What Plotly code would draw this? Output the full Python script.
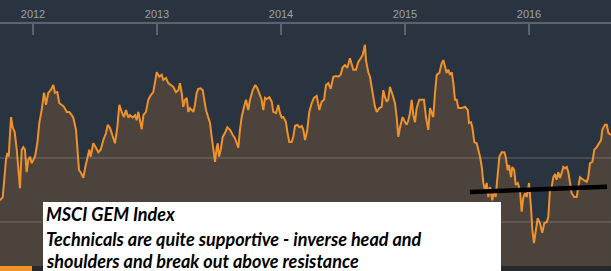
import plotly.graph_objects as go

# decimal-year dates and index levels
dates = [
 2011.734,2011.756,2011.766,2011.782,2011.793,2011.804,2011.815,2011.823,2011.836,2011.852,
 2011.869,2011.882,2011.895,2011.909,2011.922,2011.935,2011.949,2011.962,2011.976,2011.990,
 2012.002,2012.016,2012.035,2012.051,2012.070,2012.089,2012.105,2012.123,2012.143,2012.164,
 2012.177,2012.196,2012.212,2012.232,2012.250,2012.272,2012.293,2012.312,2012.325,2012.347,
 2012.361,2012.371,2012.387,2012.406,2012.422,2012.438,2012.454,2012.465,2012.486,2012.508,
 2012.527,2012.546,2012.567,2012.589,2012.603,2012.621,2012.643,2012.661,2012.680,2012.696,
 2012.715,2012.734,2012.750,2012.769,2012.782,2012.804,2012.823,2012.836,2012.849,2012.863,
 2012.877,2012.890,2012.911,2012.930,2012.949,2012.970,2012.984,
 2012.998,2013.019,2013.038,2013.051,2013.073,2013.091,2013.111,2013.132,2013.153,2013.172,
 2013.185,2013.199,2013.212,2013.226,2013.240,2013.252,2013.266,2013.280,2013.293,2013.306,
 2013.320,2013.333,2013.352,2013.369,2013.379,2013.395,2013.414,2013.427,2013.441,2013.454,
 2013.468,2013.482,2013.490,2013.500,2013.514,2013.530,2013.548,2013.567,2013.589,2013.611,
 2013.629,2013.643,2013.656,2013.669,2013.683,2013.702,2013.718,2013.736,2013.750,2013.772,
 2013.793,2013.809,2013.825,2013.844,2013.857,2013.871,2013.885,2013.906,2013.925,2013.938,
 2013.960,2013.978,2013.992,2014.006,2014.019,2014.040,2014.051,2014.067,2014.086,2014.099,
 2014.113,2014.132,2014.148,2014.167,2014.180,2014.194,
 2014.212,2014.228,2014.248,2014.266,2014.288,2014.309,2014.328,2014.347,2014.363,2014.382,
 2014.401,2014.422,2014.444,2014.462,2014.481,2014.498,2014.516,2014.535,2014.556,2014.570,
 2014.583,2014.605,2014.623,2014.643,2014.659,2014.677,2014.685,2014.704,2014.718,2014.731,
 2014.744,2014.758,2014.772,2014.793,2014.812,2014.825,2014.839,2014.852,2014.865,2014.879,
 2014.901,2014.919,2014.933,2014.946,2014.960,2014.981,2015.000,2015.014,2015.027,2015.040,
 2015.054,2015.067,2015.081,2015.094,2015.115,2015.135,2015.153,2015.169,2015.188,2015.202,
 2015.215,2015.228,2015.242,2015.256,2015.277,2015.296,2015.309,2015.323,2015.336,2015.349,
 2015.363,2015.377,2015.390,2015.403,
 2015.417,2015.430,2015.457,2015.484,2015.506,2015.516,2015.532,2015.543,2015.559,2015.578,
 2015.591,2015.605,2015.619,2015.632,2015.645,2015.659,2015.672,2015.685,2015.704,2015.720,
 2015.731,2015.748,2015.761,2015.780,2015.801,2015.812,2015.828,2015.839,2015.855,2015.865,
 2015.881,2015.893,2015.909,2015.927,2015.941,2015.954,2015.968,2015.982,2016.000,2016.016,
 2016.027,2016.040,2016.054,2016.070,2016.089,2016.107,2016.123,2016.143,2016.156,2016.169,
 2016.183,2016.196,2016.210,2016.223,2016.236,2016.250,2016.264,2016.277,2016.290,2016.304,
 2016.317,2016.331,2016.344,2016.365,2016.385,2016.398,2016.411,2016.438,2016.465,2016.478,
 2016.492,2016.511,2016.527,2016.546,2016.564,2016.581,2016.591,2016.613,2016.627,2016.640,
 2016.661,
]

index_level = [
 834,839,861,897,908,902,939,964,948,941,
 913,877,853,913,917,913,878,897,902,892,
 897,902,923,955,975,1002,983,1002,1006,1014,
 1002,1003,986,983,980,972,972,967,963,944,
 913,881,877,869,886,902,913,902,923,916,
 909,913,928,939,952,947,933,923,948,983,
 972,964,975,963,967,963,967,959,972,956,
 945,967,972,991,998,1003,1016,
 1034,1027,1030,1022,1025,1017,1014,1011,1003,1006,
 1017,1002,980,991,994,972,978,975,972,983,
 1002,1008,1009,1006,995,975,963,955,933,913,
 894,917,923,902,913,933,939,948,944,936,
 931,923,916,944,964,980,991,975,991,1006,
 1014,1009,1002,991,975,994,992,995,988,972,
 970,983,970,963,964,956,941,925,925,933,
 950,952,948,950,944,928,
 944,972,986,994,997,975,988,991,1014,1017,
 1008,1027,1028,1027,1030,1042,1045,1041,1056,1048,
 1038,1038,1050,1056,1061,1077,1053,1034,1027,1011,
 994,980,972,978,980,1006,995,988,991,1011,
 998,986,964,933,948,964,956,952,959,970,
 991,967,956,978,991,991,991,964,944,978,
 972,964,1002,1030,1033,1048,1053,1041,1033,1038,
 1030,1034,1017,991,
 991,978,978,980,975,955,956,948,925,923,
 913,902,886,861,850,861,839,855,834,850,
 839,870,902,909,909,902,881,889,870,886,
 881,858,861,850,816,838,845,839,861,823,
 788,767,783,806,798,783,798,800,808,850,
 855,870,875,866,878,869,877,886,884,886,
 878,861,845,839,839,855,870,866,863,870,
 892,894,913,917,923,928,944,952,952,939,
 936,
]

resistance_dates = [2015.524, 2016.629]
resistance_level = [847, 855]

year_ticks = [2012, 2013, 2014, 2015, 2016]
year_labels = ["2012", "2013", "2014", "2015", "2016"]
grid_levels = [800, 900]

note_lines = [
    "MSCI GEM Index",
    "Technicals are quite supportive - inverse head and",
    "shoulders and break out above resistance",
]

NAVY = "#2a3340"
BROWN = "#4b433c"
ORANGE = "#f0922a"

fig = go.Figure()
fig.add_trace(go.Scatter(
    x=dates, y=index_level, mode="lines",
    line=dict(color=ORANGE, width=2),
    fill="tozeroy", fillcolor=BROWN,
    hoverinfo="skip", showlegend=False,
))
fig.add_trace(go.Scatter(
    x=resistance_dates, y=resistance_level, mode="lines",
    line=dict(color="#000000", width=4.5),
    hoverinfo="skip", showlegend=False,
))

shapes = []
for g in grid_levels:
    shapes.append(dict(type="line", xref="paper", yref="y", x0=0, x1=1, y0=g, y1=g,
                       line=dict(color="rgba(190,180,170,0.38)", width=1), layer="above"))

W, H = 611, 271
top, bottom = 24, 266
ph = bottom - top
def py(v):
    return (bottom - v) / ph

# bottom strip
shapes.append(dict(type="rect", xref="paper", yref="paper", x0=0, x1=1, y0=py(271), y1=py(266),
                   fillcolor="#26282b", line=dict(width=0), layer="above"))
shapes.append(dict(type="rect", xref="paper", yref="paper", x0=0, x1=32 / W, y0=py(271), y1=py(266),
                   fillcolor=ORANGE, line=dict(width=0), layer="above"))
# white text box
shapes.append(dict(type="rect", xref="paper", yref="paper", x0=43 / W, x1=501 / W, y0=py(272), y1=py(202),
                   fillcolor="#ffffff", line=dict(width=0), layer="above"))

line_tops = [200.5, 225.5, 247.5]
annotations = []
for txt, t in zip(note_lines, line_tops):
    annotations.append(dict(
        xref="paper", yref="paper", x=44 / W, y=py(t), xanchor="left", yanchor="top",
        align="left", showarrow=False, text="<i>" + txt + "</i>",
        font=dict(family="Lato", size=18, color="#000000", weight="bold"),
    ))

fig.update_layout(
    width=W, height=H,
    margin=dict(l=0, r=0, t=top, b=H - bottom, pad=0),
    paper_bgcolor=NAVY, plot_bgcolor=NAVY,
    shapes=shapes,
    xaxis=dict(
        side="top", range=[2011.7339, 2016.6613],
        tickvals=year_ticks, ticktext=year_labels,
        showgrid=False, zeroline=False,
        showline=True, linecolor="#5b6370", linewidth=2,
        ticks="inside", ticklen=11, tickwidth=2, tickcolor="#5b6370",
        tickfont=dict(family="Arial, Liberation Sans", size=11, color="#9da1a8"),
        fixedrange=True,
    ),
    yaxis=dict(
        range=[731.25, 1109.4], showgrid=False, zeroline=False,
        showticklabels=False, showline=False, fixedrange=True,
    ),
    annotations=annotations,
)

fig.write_html("out.html")
